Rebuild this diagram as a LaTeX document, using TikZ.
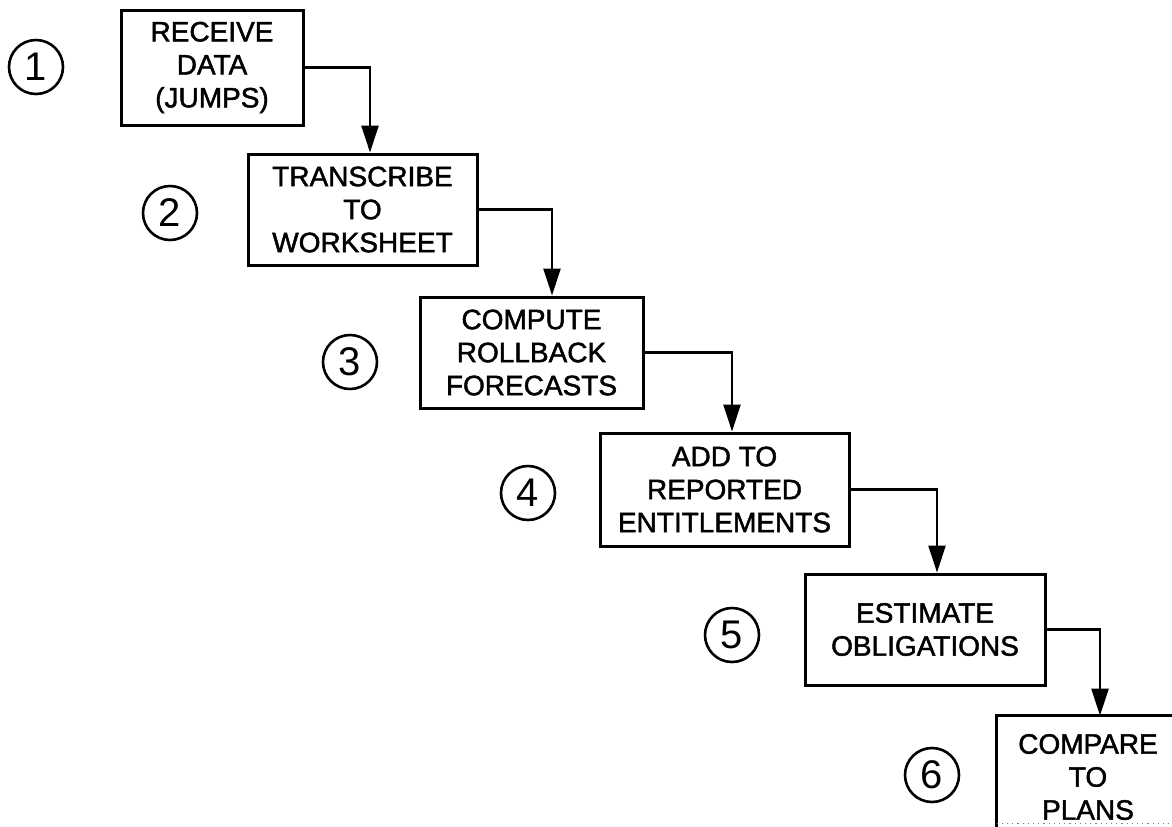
\documentclass[tikz,border=0pt]{standalone}
\usepackage{fontspec}
\setmainfont{Liberation Sans}
\newfontfamily\plotfont[FakeBold=1.6]{Liberation Sans}
\usetikzlibrary{arrows.meta}
\begin{document}
\begin{tikzpicture}[x=0.5pt,y=-0.5pt,
  boxtext/.style={align=center, font=\plotfont\fontsize{14}{16.5}\selectfont, inner sep=0pt},
  stepbox/.style={boxtext, draw, line width=1.5pt},
  num/.style={draw, circle, line width=1.3pt, minimum size=27pt, inner sep=0pt, font=\fontsize{20}{20}\selectfont},
  arr/.style={line width=1.3pt, -{Triangle[length=13.5pt,width=8.5pt]}},
  edge/.style={line width=1.5pt}]
\useasboundingbox (0,0) rectangle (1172,826);
\clip (0,0) rectangle (1172,826);
% boxes
\node[stepbox, minimum width=91pt, minimum height=57.5pt] (b1) at (212,67.5) {RECEIVE\\DATA\\(JUMPS)};
\node[stepbox, minimum width=114.5pt, minimum height=55.5pt] (b2) at (362.5,209.5) {TRANSCRIBE\\TO\\WORKSHEET};
\node[stepbox, minimum width=111.5pt, minimum height=55.5pt] (b3) at (531.5,352.5) {COMPUTE\\ROLLBACK\\FORECASTS};
\node[stepbox, minimum width=124.5pt, minimum height=56.5pt] (b4) at (724.5,489.5) {ADD TO\\REPORTED\\ENTITLEMENTS};
\node[stepbox, minimum width=120pt, minimum height=55.5pt] (b5) at (925,629.5) {ESTIMATE\\OBLIGATIONS};
\node[boxtext, minimum width=91pt, minimum height=61pt] (b6) at (1088,777) {COMPARE\\TO\\PLANS};
\draw[edge] (b6.south west) -- (b6.north west) -- (b6.north east) -- (b6.south east);
\draw[line width=0.6pt, gray, dotted] ([yshift=7.5pt]b6.south west) -- ([yshift=7.5pt]b6.south east);
% step numbers
\node[num] (n1) at (36,67) {1};
\node[num] (n2) at (170,213) {2};
\node[num] (n3) at (350,362) {3};
\node[num] (n4) at (528,493) {4};
\node[num] (n5) at (732,635) {5};
\node[num] (n6) at (932,775) {6};
% connectors
\draw[arr] (b1.east) -| ([xshift=3.75pt]b2.north);
\draw[arr] (b2.east) -| ([xshift=10.25pt]b3.north);
\draw[arr] (b3.east) -| ([xshift=3.75pt]b4.north);
\draw[arr] (b4.east) -| ([xshift=6pt]b5.north);
\draw[arr] (b5.east) -| ([xshift=6pt]b6.north);
\end{tikzpicture}
\end{document}
